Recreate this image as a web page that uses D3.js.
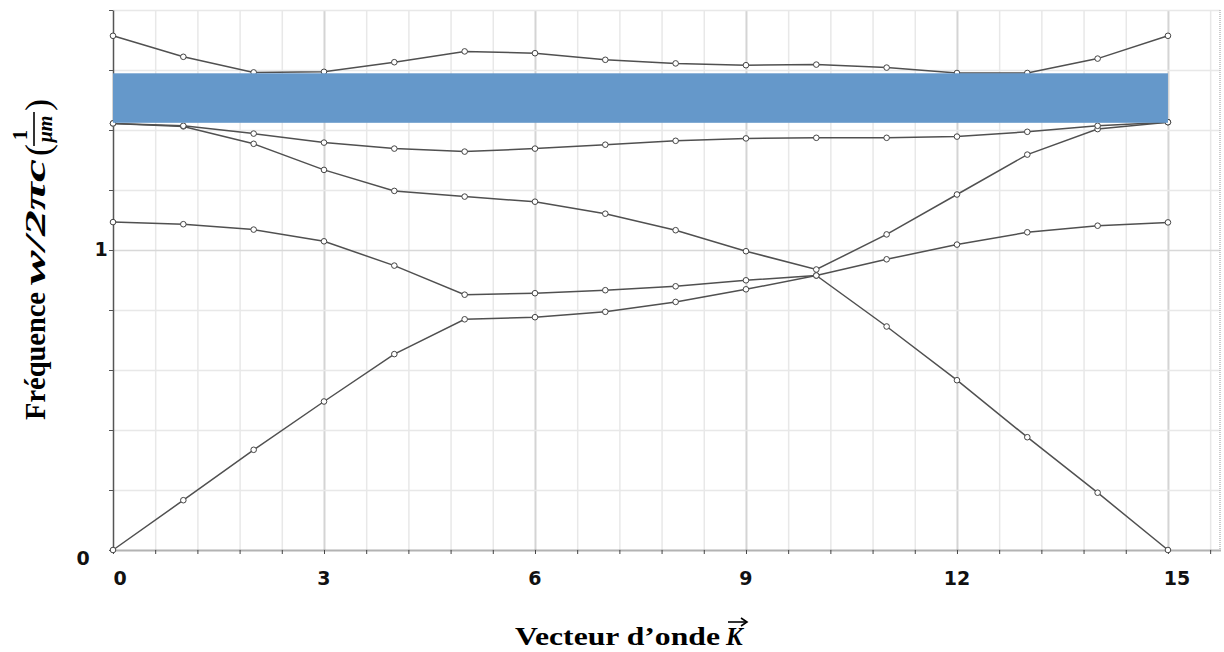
<!DOCTYPE html>
<html>
<head>
<meta charset="utf-8">
<script src="https://cdn.jsdelivr.net/npm/d3@7"></script>
<style>
body { margin: 0; background: #fff; }
</style>
</head>
<body>
<div class="svg-container"></div>
<script>
// wave vector samples
var kValues = d3.range(0, 16);

// bands
var band1 = [0, 0.166, 0.334, 0.495, 0.653, 0.769, 0.776, 0.794, 0.827, 0.869, 0.915, 0.745, 0.566, 0.376, 0.191, 0];
var band2 = [1.093, 1.086, 1.068, 1.029, 0.948, 0.851, 0.856, 0.866, 0.879, 0.899, 0.915, 0.969, 1.018, 1.059, 1.081, 1.092];
var band3 = [1.422, 1.412, 1.354, 1.267, 1.197, 1.178, 1.161, 1.121, 1.066, 0.996, 0.935, 1.052, 1.185, 1.318, 1.403, 1.426];
var band4 = [1.422, 1.414, 1.388, 1.358, 1.338, 1.328, 1.338, 1.351, 1.364, 1.372, 1.374, 1.374, 1.378, 1.394, 1.414, 1.426];
var band5 = [1.714, 1.644, 1.592, 1.594, 1.626, 1.662, 1.656, 1.634, 1.622, 1.616, 1.618, 1.608, 1.59, 1.59, 1.638, 1.714];

// photonic band gap
var gapLow = 1.424;
var gapHigh = 1.589;

var xTicks = [0, 3, 6, 9, 12, 15];
var yTicks = [0, 1];

var xMax = 15.74;
var yMax = 1.8;

var svg = d3.select(".svg-container").append("svg")
    .attr("width", 1224)
    .attr("height", 652);

var x = d3.scaleLinear().domain([0, xMax]).range([113, 1220]);
var y = d3.scaleLinear().domain([0, yMax]).range([550, 10]);

function isMajor(d) {
    var r = d % 3;
    return r < 0.01 || r > 2.99;
}

// vertical grid
var xGrid = d3.range(1, 27).map(function(i) { return +(i * 0.6).toFixed(1); });
svg.append("g")
    .attr("transform", "translate(0," + y(0) + ")")
    .call(d3.axisBottom(x).tickValues(xGrid).tickSize(-(y(0) - y(yMax))).tickFormat(""))
    .call(function(g) { g.select(".domain").remove(); })
    .selectAll("line")
    .attr("stroke", function(d) { return isMajor(d) ? "#d4d4d4" : "#e8e8e8"; })
    .attr("stroke-width", function(d) { return isMajor(d) ? 2 : 1.5; });

// horizontal grid
var yGrid = d3.range(1, 10).map(function(i) { return +(i * 0.2).toFixed(1); });
svg.append("g")
    .attr("transform", "translate(" + x(0) + ",0)")
    .call(d3.axisLeft(y).tickValues(yGrid).tickSize(-(x(xMax) - x(0))).tickFormat(""))
    .call(function(g) { g.select(".domain").remove(); })
    .selectAll("line")
    .attr("stroke", function(d) { return d === 1 ? "#d8d8d8" : "#e8e8e8"; })
    .attr("stroke-width", 1.5);

// right border
svg.append("line")
    .attr("x1", x(xMax)).attr("x2", x(xMax))
    .attr("y1", y(yMax)).attr("y2", y(0))
    .attr("stroke", "#bbb")
    .attr("stroke-dasharray", "1 1")
    .attr("stroke-width", 1.5);

// y axis
var yAxis = svg.append("g")
    .attr("transform", "translate(" + x(0) + ",0)")
    .call(d3.axisLeft(y).tickValues(d3.range(0, 10).map(function(i) { return i * 0.2; })).tickSize(4).tickFormat("").tickSizeOuter(0));
yAxis.select(".domain").attr("stroke", "#555").attr("stroke-width", 1.5);
yAxis.selectAll(".tick line").attr("stroke", "#555");

// x axis
var xAxis = svg.append("g")
    .attr("transform", "translate(0," + y(0) + ")")
    .call(d3.axisBottom(x).tickValues(d3.range(0, 27).map(function(i) { return i * 0.6; })).tickSize(4).tickFormat("").tickSizeOuter(0));
xAxis.select(".domain").attr("stroke", "#666").attr("stroke-width", 2).attr("stroke-dasharray", "1 1");
xAxis.selectAll(".tick line").attr("stroke", "#444");

// band lines
var bands = [band1, band2, band3, band4, band5];

var line = d3.line()
    .x(function(d, i) { return x(kValues[i]); })
    .y(function(d) { return y(d); });

svg.append("g").selectAll("path")
    .data(bands)
    .enter().append("path")
    .attr("d", line)
    .attr("fill", "none")
    .attr("stroke", "#505050")
    .attr("stroke-width", 1.5);

bands.forEach(function(b) {
    svg.append("g").selectAll("circle")
        .data(b)
        .enter().append("circle")
        .attr("cx", function(d, i) { return x(kValues[i]); })
        .attr("cy", function(d) { return y(d); })
        .attr("r", 2.8)
        .attr("fill", "#fff")
        .attr("stroke", "#444")
        .attr("stroke-width", 1);
});

// band gap
svg.append("rect")
    .attr("x", x(0))
    .attr("y", y(gapHigh))
    .attr("width", x(15) - x(0))
    .attr("height", y(gapLow) - y(gapHigh))
    .attr("fill", "#6598ca");

// tick labels
svg.append("g").selectAll("text")
    .data(xTicks)
    .enter().append("text")
    .attr("x", function(d) { return x(d) + (d === 0 ? 7 : d === 15 ? 9 : 0); })
    .attr("y", 585)
    .attr("text-anchor", "middle")
    .style("font-family", "DejaVu Sans")
    .style("font-weight", "bold")
    .style("font-size", "19px")
    .attr("fill", "#111")
    .text(function(d) { return d; });

svg.append("g").selectAll("text")
    .data(yTicks)
    .enter().append("text")
    .attr("x", function(d) { return d === 0 ? 83 : 101; })
    .attr("y", function(d) { return y(d) + (d === 0 ? 15 : 6); })
    .attr("text-anchor", "middle")
    .style("font-family", "DejaVu Sans")
    .style("font-weight", "bold")
    .style("font-size", "19px")
    .attr("fill", "#111")
    .text(function(d) { return d; });

// X Axis Label
svg.append("text")
    .attr("x", 515)
    .attr("y", 645)
    .attr("textLength", 205)
    .attr("lengthAdjust", "spacingAndGlyphs")
    .style("font-family", "Liberation Serif")
    .style("font-weight", "bold")
    .style("font-size", "25px")
    .text("Vecteur d\u2019onde");

svg.append("text")
    .attr("x", 726)
    .attr("y", 645)
    .style("font-family", "Liberation Serif")
    .style("font-weight", "bold")
    .style("font-style", "italic")
    .style("font-size", "25px")
    .text("K");

svg.append("line")
    .attr("x1", 728).attr("x2", 746)
    .attr("y1", 622).attr("y2", 622)
    .attr("stroke", "#000").attr("stroke-width", 1.6);
svg.append("path")
    .attr("d", "M741,618 L747,622 L741,626")
    .attr("fill", "none")
    .attr("stroke", "#000").attr("stroke-width", 1.6);

// Y Axis Label
var yl = svg.append("g").attr("transform", "translate(45,250) rotate(-90)");

yl.append("text")
    .attr("x", -170).attr("y", 0)
    .attr("textLength", 128)
    .attr("lengthAdjust", "spacingAndGlyphs")
    .style("font-family", "Liberation Serif")
    .style("font-weight", "bold")
    .style("font-size", "29px")
    .text("Fréquence");

yl.append("text")
    .attr("x", -35).attr("y", 0)
    .attr("textLength", 126)
    .attr("lengthAdjust", "spacingAndGlyphs")
    .style("font-family", "Liberation Serif")
    .style("font-weight", "bold")
    .style("font-style", "italic")
    .style("font-size", "29px")
    .text("w/2\u03c0c");

yl.append("text")
    .attr("x", 94).attr("y", 5)
    .style("font-family", "Liberation Serif")
    .style("font-size", "36px")
    .text("(");

yl.append("text")
    .attr("x", 115).attr("y", -18)
    .attr("text-anchor", "middle")
    .style("font-family", "Liberation Serif")
    .style("font-weight", "bold")
    .style("font-size", "20px")
    .text("1");

yl.append("line")
    .attr("x1", 104).attr("x2", 138)
    .attr("y1", -11).attr("y2", -11)
    .attr("stroke", "#000").attr("stroke-width", 1.6);

yl.append("text")
    .attr("x", 121).attr("y", 7)
    .attr("text-anchor", "middle")
    .style("font-family", "Liberation Serif")
    .style("font-weight", "bold")
    .style("font-style", "italic")
    .style("font-size", "20px")
    .text("\u03bcm");

yl.append("text")
    .attr("x", 139).attr("y", 5)
    .style("font-family", "Liberation Serif")
    .style("font-size", "36px")
    .text(")");
</script>
</body>
</html>
